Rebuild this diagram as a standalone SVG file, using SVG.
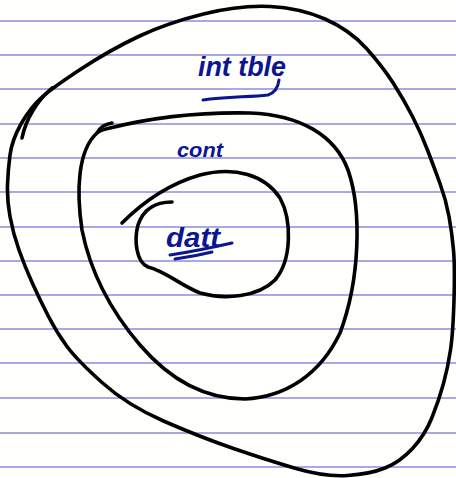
<svg xmlns="http://www.w3.org/2000/svg" width="456" height="478" viewBox="0 0 456 478">
<style>
.rule{stroke:#8c8cdc;stroke-width:1.4}
.ink{fill:none;stroke:#000;stroke-width:3.6;stroke-linecap:round;stroke-linejoin:round}
.blue{fill:none;stroke:#0b1690;stroke-width:3;stroke-linecap:round;stroke-linejoin:round}
.lbl{font-family:"Liberation Sans","DejaVu Sans",sans-serif;font-weight:bold;fill:#0b1690;font-style:italic}
</style>
<rect width="456" height="478" fill="#fffffd"/>
<g id="paper">
<line class="rule" x1="0" y1="21" x2="456" y2="21"/>
<line class="rule" x1="0" y1="55" x2="456" y2="55"/>
<line class="rule" x1="0" y1="89" x2="456" y2="89"/>
<line class="rule" x1="0" y1="124" x2="456" y2="124"/>
<line class="rule" x1="0" y1="158" x2="456" y2="158"/>
<line class="rule" x1="0" y1="192" x2="456" y2="192"/>
<line class="rule" x1="0" y1="227" x2="456" y2="227"/>
<line class="rule" x1="0" y1="261" x2="456" y2="261"/>
<line class="rule" x1="0" y1="295" x2="456" y2="295"/>
<line class="rule" x1="0" y1="329" x2="456" y2="329"/>
<line class="rule" x1="0" y1="363" x2="456" y2="363"/>
<line class="rule" x1="0" y1="398" x2="456" y2="398"/>
<line class="rule" x1="0" y1="433" x2="456" y2="433"/>
<line class="rule" x1="0" y1="467" x2="456" y2="467"/>
</g>
<g id="outer">
<path class="ink" d="M41,98 Q52,88 81,69 Q110,50 138.5,36.5 Q167,23 203.5,14 Q240,5 270,6.5 Q300,8 325,19 Q350,30 366.5,48.5 Q383,67 393.5,83.5 Q404,100 412.5,116.5 Q421,133 427.5,150 Q434,167 440,183.5 Q446,200 449,216.5 Q452,233 453.5,250 Q455,267 454,300 Q453,333 450.5,350 Q448,367 443.5,383.5 Q439,400 432,417.5 Q425,435 412.5,448.5 Q400,462 385,468 Q370,474 347.5,475.5 Q325,477 296,468.5 Q267,460 233.5,448.5 Q200,437 163.5,421 Q127,405 102,382.5 Q77,360 67,346.5 Q57,333 48.5,316.5 Q40,300 32.5,283.5 Q25,267 19,250 Q13,233 10,216.5 Q7,200 7.5,185 Q8,170 10,155 Q12,140 21,124 Q30,108 41,98 Z"/>
<path class="ink" d="M52,88 C38,100 26,118 22,138" stroke-width="2.4"/>
</g>
<g id="middle">
<path class="ink" d="M110,128 C150,118 200,112 250,113 C300,115 335,135 348,170 C362,210 360,280 340,333 C320,375 285,397 245,399 C205,399 170,380 140,345 C110,310 90,270 82,230 C76,190 78,150 97,133 C100,130 105,129 110,128 Z"/>
<path class="ink" d="M97,133 C100,127 106,124 112,123" stroke-width="5"/>
</g>
<g id="inner">
<path class="ink" d="M122,223 C140,205 165,185 200,175 C235,166 265,175 280,198 C292,220 292,260 275,280 C258,297 225,300 200,293 C180,285 165,271 148,267 C136,262 134,240 138,225 C143,210 155,202 172,202"/>
</g>
<g id="labels">
<text class="lbl" x="198" y="76" font-size="28" textLength="88" lengthAdjust="spacingAndGlyphs">int tble</text>
<path class="blue" d="M203,100 C225,97 250,97 268,95 C274,93 278,88 279,80"/>
<text class="lbl" x="177" y="157" font-size="20" textLength="46" lengthAdjust="spacingAndGlyphs">cont</text>
<text class="lbl" x="166" y="247" font-size="28" textLength="54" lengthAdjust="spacingAndGlyphs">datt</text>
<path class="blue" d="M170,255 C190,252 210,248 232,243 M175,259 C190,257 200,255 212,252"/>
</g>
</svg>
